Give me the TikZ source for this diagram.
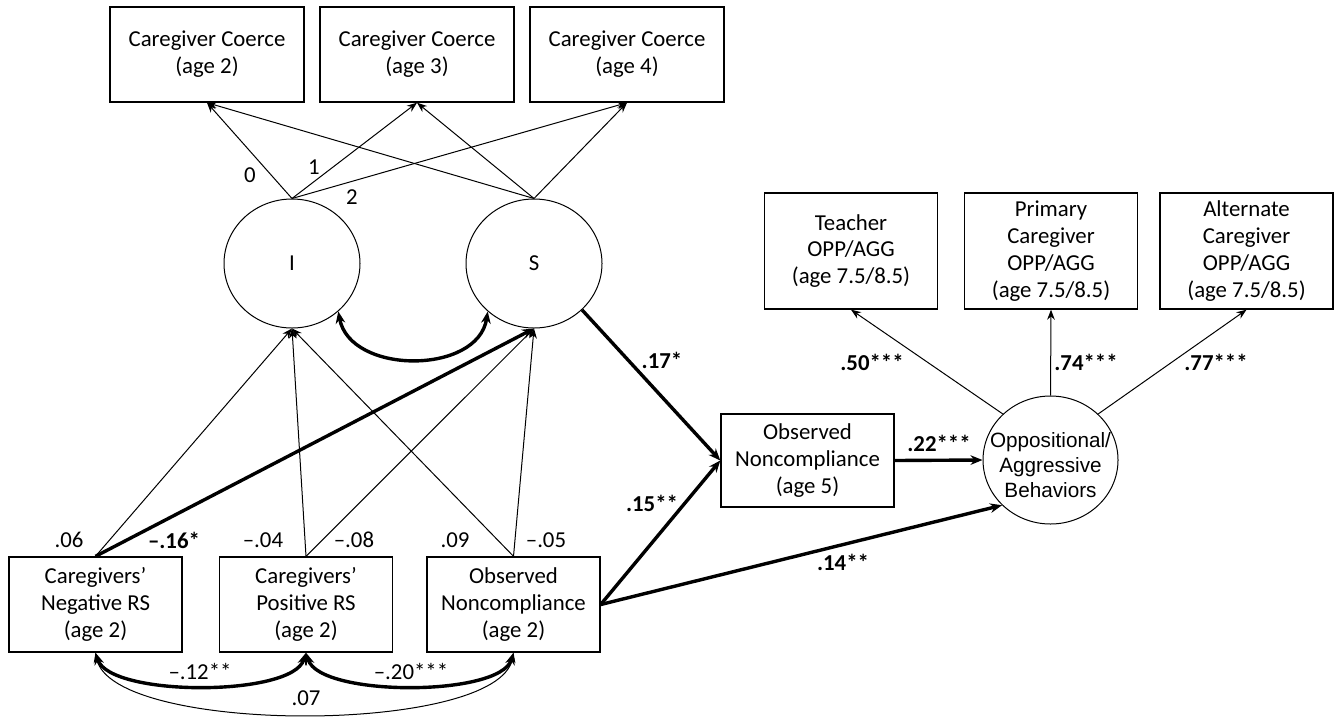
\documentclass[tikz,border=0pt]{standalone}
\usepackage{fontspec}
\setmainfont{Carlito}
\newfontfamily\arialfont{Liberation Sans}
\usetikzlibrary{arrows.meta,shapes.geometric}
\begin{document}
\begin{tikzpicture}[x=0.5pt,y=-0.5pt,
  txt/.style={font=\fontsize{11.4}{13.4}\selectfont},
  box/.style={txt,draw,line width=0.7pt,rectangle,align=center,inner sep=0pt},
  topbox/.style={box,minimum width=97pt,minimum height=47.5pt},
  botbox/.style={box,minimum width=86.5pt,minimum height=47.5pt},
  outbox/.style={box,minimum width=86.5pt,minimum height=58pt},
  latent/.style={txt,draw,line width=0.5pt,ellipse,inner sep=0pt,align=center},
  thinarr/.style={line width=0.5pt,-{Stealth[length=5pt,width=3.8pt]}},
  thickarr/.style={line width=1.7pt,-{Stealth[length=6pt,width=4.8pt]}},
  thinbi/.style={line width=0.5pt,{Stealth[length=5pt,width=3.8pt]}-{Stealth[length=5pt,width=3.8pt]}},
  thickbi/.style={line width=1.7pt,{Stealth[length=6pt,width=4.8pt]}-{Stealth[length=6pt,width=4.8pt]}},
  lab/.style={txt,inner sep=0pt},
  blab/.style={txt,font=\fontsize{11.4}{13.4}\selectfont\bfseries,inner sep=0pt},
]
\useasboundingbox (0,0) rectangle (1342,718);

% top indicator boxes
\node[topbox] (c1) at (207,54.5) {Caregiver Coerce\\(age 2)};
\node[topbox] (c2) at (417,54.5) {Caregiver Coerce\\(age 3)};
\node[topbox] (c3) at (627,54.5) {Caregiver Coerce\\(age 4)};

% latent growth factors
\node[latent,minimum width=68pt,minimum height=64.5pt] (I) at (292,263.5) {I};
\node[latent,minimum width=68pt,minimum height=64.5pt] (S) at (534,263.5) {S};

% predictors
\node[botbox] (A) at (95.5,604.5) {Caregivers’\\Negative RS\\(age 2)};
\node[botbox] (B) at (306,604.5) {Caregivers’\\Positive RS\\(age 2)};
\node[botbox] (C) at (513.5,604.5) {Observed\\Noncompliance\\(age 2)};

% mediator
\node[box,minimum width=86.5pt,minimum height=46.5pt] (O5) at (807.5,460.5) {Observed\\Noncompliance\\(age 5)};

% outcome
\node[draw,line width=0.5pt,ellipse,inner sep=0pt,minimum width=67.5pt,minimum height=64pt,
  label={[align=center,inner sep=0pt,yshift=-2.5pt,font=\arialfont\fontsize{10.35}{12.4}\selectfont]center:Oppositional/\\Aggressive\\Behaviors}] (Opp) at (1050.5,460) {};

\node[outbox] (T) at (851,251) {Teacher\\OPP/AGG\\(age 7.5/8.5)};
\node[outbox] (P) at (1051,251) {Primary\\Caregiver\\OPP/AGG\\(age 7.5/8.5)};
\node[outbox] (Al) at (1246.5,251) {Alternate\\Caregiver\\OPP/AGG\\(age 7.5/8.5)};

% loadings of growth factors
\draw[thinarr] (I.north) -- (c1.south);
\draw[thinarr] (I.north) -- (c2.south);
\draw[thinarr] (I.north) -- (c3.south);
\draw[thinarr] (S.north) -- (c1.south);
\draw[thinarr] (S.north) -- (c2.south);
\draw[thinarr] (S.north) -- (c3.south);
\node[lab] (l0) at (250,175) {0};
\node[lab] (l1) at (314,167) {1};
\node[lab] (l2) at (352,197) {2};

% I-S covariance
\draw[thickbi] (I.-46) .. controls (350,375) and (478,375) .. (S.-134);

% predictors to growth factors
\draw[thinarr] (A.north) -- (I.south);
\draw[thickarr] (A.north) -- (S.south);
\draw[thinarr] (B.north) -- (I.south);
\draw[thinarr] (B.north) -- (S.south);
\draw[thinarr] (C.north) -- (I.south);
\draw[thinarr] (C.north) -- (S.south);
\node[lab] (la1) at (69,540) {.06};
\node[blab] (la2) at (174,540) {–.16*};
\node[lab] (lb1) at (263,540) {–.04};
\node[lab] (lb2) at (354,540) {–.08};
\node[lab] (lc1) at (455,540) {.09};
\node[lab] (lc2) at (546,540) {–.05};

% predictor covariances
\draw[thickbi] (A.south) .. controls (110,697) and (292,697) .. (B.south);
\draw[thickbi] (B.south) .. controls (320,697) and (500,697) .. (C.south);
\draw[thinbi] (A.south) .. controls (112,735) and (498,735) .. (C.south);
\node[lab] (lab) at (200,671) {–.12**};
\node[lab] (lbc) at (411,671) {–.20***};
\node[lab] (lac) at (306,698) {.07};

% structural paths
\draw[thickarr] (S.-44) -- (O5.west);
\draw[thickarr] (C.east) -- (O5.west);
\draw[thickarr] (C.east) -- (Opp.-137);
\draw[thickarr] (O5.east) -- (Opp.west);
\node[blab] (p1) at (662,360) {.17*};
\node[blab] (p2) at (652,503) {.15**};
\node[blab] (p3) at (939,443) {.22***};
\node[blab] (p4) at (843,562) {.14**};

% outcome loadings
\draw[thinarr] (Opp.136) -- (T.south);
\draw[thinarr] (Opp.north) -- (P.south);
\draw[thinarr] (Opp.44) -- (Al.south);
\node[blab] (o1) at (872,362) {.50***};
\node[blab] (o2) at (1086,362) {.74***};
\node[blab] (o3) at (1216,362) {.77***};
\end{tikzpicture}
\end{document}
